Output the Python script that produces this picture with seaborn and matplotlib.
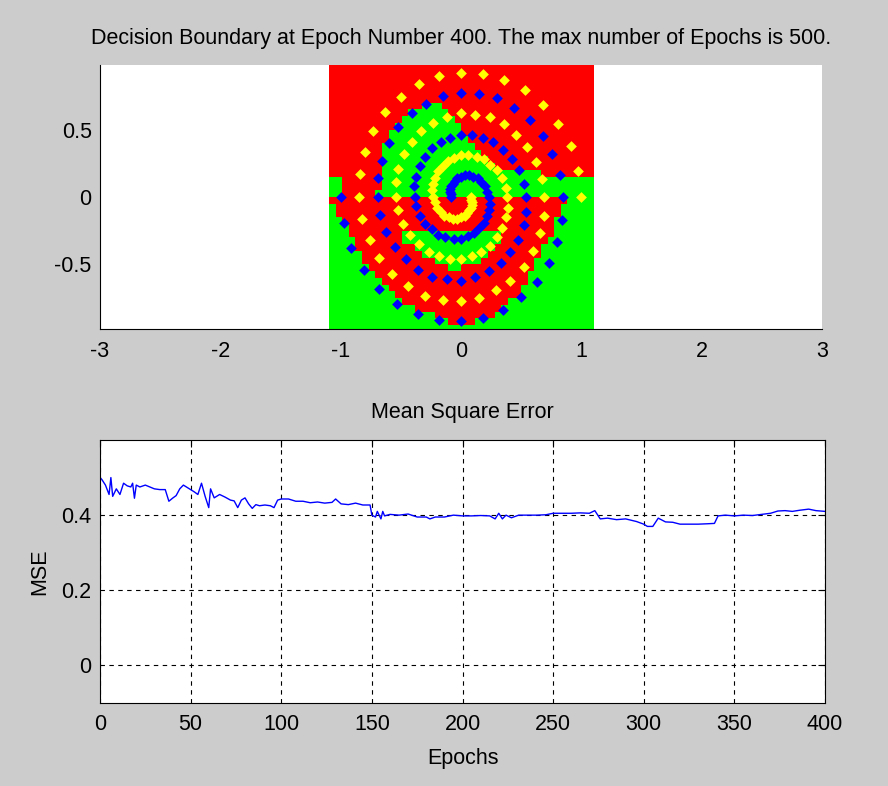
import numpy as np
import matplotlib
matplotlib.use("Agg")
import matplotlib.pyplot as plt
from matplotlib.colors import ListedColormap
import seaborn as sns
import pandas as pd

sns.set_theme(style="white")
plt.rcParams['font.family'] = ['Liberation Sans', 'DejaVu Sans']
plt.rcParams['axes.unicode_minus'] = False

# ---------------- data ----------------
# decision-region grid (40 x 40 cells), run-length encoded rows, top row first
region_rows = [
    "R40", "R40", "R40", "R40", "R40", "R40",
    "R14 G3 R23",
    "R12 G6 R22",
    "R11 G8 R21",
    "R10 G10 R20",
    "R9 G11 R20",
    "R9 G12 R19",
    "R8 G14 R18",
    "R8 G15 R17",
    "R8 G16 R16",
    "R8 G17 R15",
    "R8 G24 R8",
    "G2 R6 G32",
    "G2 R6 G32",
    "G2 R5 G33",
    "R36 G4",
    "G1 R34 G5",
    "G1 R34 G5",
    "G2 R32 G6",
    "G3 R31 G6",
    "G3 R8 G15 R8 G6",
    "G4 R7 G15 R7 G7",
    "G4 R9 G12 R7 G8",
    "G5 R9 G10 R8 G8",
    "G5 R11 G7 R8 G9",
    "G6 R12 G2 R11 G9",
    "G7 R23 G10",
    "G8 R22 G10",
    "G9 R20 G11",
    "G10 R19 G11",
    "G11 R16 G13",
    "G13 R13 G14",
    "G16 R9 G15",
    "G18 R4 G18",
    "G40",
]
grid_x_range = [-1.1, 1.1]
grid_y_range = [-1.0, 1.0]

yellow_x = [1.00, 0.97, 0.91, 0.81, 0.68, 0.53, 0.36, 0.18,
            0.00, -0.18, -0.35, -0.50, -0.63, -0.73, -0.80, -0.84,
            -0.85, -0.82, -0.76, -0.68, -0.57, -0.44, -0.30, -0.15,
            0.00, 0.15, 0.29, 0.41, 0.52, 0.60, 0.66, 0.69,
            0.69, 0.67, 0.62, 0.55, 0.46, 0.36, 0.24, 0.12,
            0.00, -0.12, -0.23, -0.33, -0.41, -0.47, -0.52, -0.54,
            -0.54, -0.52, -0.48, -0.42, -0.35, -0.27, -0.18, -0.09,
            0.00, 0.09, 0.17, 0.24, 0.30, 0.34, 0.37, 0.39,
            0.38, 0.37, 0.34, 0.30, 0.24, 0.19, 0.13, 0.06,
            0.00, -0.06, -0.11, -0.15, -0.19, -0.22, -0.23, -0.24,
            -0.23, -0.22, -0.20, -0.17, -0.14, -0.10, -0.07, -0.03,
            0.00, 0.03, 0.05, 0.07, 0.08, 0.09, 0.09, 0.08, 0.08]
yellow_y = [0.00, 0.19, 0.38, 0.54, 0.68, 0.79, 0.87, 0.91,
            0.92, 0.90, 0.84, 0.74, 0.63, 0.49, 0.33, 0.17,
            0.00, -0.16, -0.32, -0.45, -0.57, -0.66, -0.73, -0.76,
            -0.77, -0.75, -0.69, -0.62, -0.52, -0.40, -0.27, -0.14,
            0.00, 0.13, 0.26, 0.37, 0.46, 0.54, 0.59, 0.61,
            0.62, 0.59, 0.55, 0.49, 0.41, 0.32, 0.21, 0.11,
            0.00, -0.10, -0.20, -0.28, -0.35, -0.41, -0.44, -0.46,
            -0.46, -0.44, -0.41, -0.36, -0.30, -0.23, -0.15, -0.08,
            0.00, 0.07, 0.14, 0.20, 0.24, 0.28, 0.30, 0.31,
            0.31, 0.29, 0.27, 0.23, 0.19, 0.14, 0.10, 0.05,
            0.00, -0.04, -0.08, -0.11, -0.14, -0.15, -0.16, -0.16,
            -0.15, -0.14, -0.12, -0.10, -0.08, -0.06, -0.04, -0.02, 0.00]
blue_x = [-1.00, -0.97, -0.91, -0.81, -0.68, -0.53, -0.36, -0.18,
          0.00, 0.18, 0.35, 0.50, 0.63, 0.73, 0.80, 0.84,
          0.85, 0.82, 0.76, 0.68, 0.57, 0.44, 0.30, 0.15,
          0.00, -0.15, -0.29, -0.41, -0.52, -0.60, -0.66, -0.69,
          -0.69, -0.67, -0.62, -0.55, -0.46, -0.36, -0.24, -0.12,
          0.00, 0.12, 0.23, 0.33, 0.41, 0.47, 0.52, 0.54,
          0.54, 0.52, 0.48, 0.42, 0.35, 0.27, 0.18, 0.09,
          0.00, -0.09, -0.17, -0.24, -0.30, -0.34, -0.37, -0.39,
          -0.38, -0.37, -0.34, -0.30, -0.24, -0.19, -0.13, -0.06,
          0.00, 0.06, 0.11, 0.15, 0.19, 0.22, 0.23, 0.24,
          0.23, 0.22, 0.20, 0.17, 0.14, 0.10, 0.07, 0.03,
          0.00, -0.03, -0.05, -0.07, -0.08, -0.09, -0.09, -0.08, -0.08]
blue_y = [0.00, -0.19, -0.38, -0.54, -0.68, -0.79, -0.87, -0.91,
          -0.92, -0.90, -0.84, -0.74, -0.63, -0.49, -0.33, -0.17,
          0.00, 0.16, 0.32, 0.45, 0.57, 0.66, 0.73, 0.76,
          0.77, 0.75, 0.69, 0.62, 0.52, 0.40, 0.27, 0.14,
          0.00, -0.13, -0.26, -0.37, -0.46, -0.54, -0.59, -0.61,
          -0.62, -0.59, -0.55, -0.49, -0.41, -0.32, -0.21, -0.11,
          0.00, 0.10, 0.20, 0.28, 0.35, 0.41, 0.44, 0.46,
          0.46, 0.44, 0.41, 0.36, 0.30, 0.23, 0.15, 0.08,
          0.00, -0.07, -0.14, -0.20, -0.24, -0.28, -0.30, -0.31,
          -0.31, -0.29, -0.27, -0.23, -0.19, -0.14, -0.10, -0.05,
          0.00, 0.04, 0.08, 0.11, 0.14, 0.15, 0.16, 0.16,
          0.15, 0.14, 0.12, 0.10, 0.08, 0.06, 0.04, 0.02, 0.00]

epochs = [0, 1, 3, 5, 6, 7, 9, 11, 13, 15, 17, 18, 19, 20, 22, 25, 27, 30, 33, 36,
          38, 40, 42, 44, 46, 48, 50, 52, 54, 56, 58, 60, 61, 63, 66, 69, 72, 74, 76, 78,
          80, 82, 84, 86, 88, 91, 94, 96, 98, 100, 104, 108, 112, 116, 120, 124, 128, 130, 133, 137,
          141, 145, 149, 150, 152, 153, 155, 156, 157, 160, 165, 170, 175, 180, 182, 185, 190, 195, 200, 205,
          210, 215, 218, 220, 222, 224, 227, 231, 236, 241, 246, 250, 255, 260, 265, 270, 273, 276, 280, 285,
          290, 296, 300, 302, 305, 308, 312, 316, 320, 325, 330, 335, 339, 341, 345, 350, 355, 360, 365, 370,
          374, 378, 382, 386, 391, 395, 400]
mse = [0.500, 0.495, 0.480, 0.455, 0.500, 0.450, 0.470, 0.455, 0.485, 0.478, 0.475, 0.485, 0.445, 0.480, 0.475, 0.480, 0.476, 0.470, 0.468, 0.468,
       0.437, 0.445, 0.452, 0.470, 0.480, 0.474, 0.468, 0.462, 0.455, 0.485, 0.450, 0.420, 0.470, 0.446, 0.455, 0.448, 0.440, 0.438, 0.420, 0.440,
       0.446, 0.430, 0.418, 0.428, 0.425, 0.427, 0.425, 0.420, 0.440, 0.443, 0.443, 0.437, 0.437, 0.433, 0.435, 0.432, 0.434, 0.443, 0.430, 0.428,
       0.432, 0.427, 0.427, 0.400, 0.395, 0.410, 0.390, 0.410, 0.398, 0.402, 0.400, 0.403, 0.395, 0.395, 0.390, 0.395, 0.395, 0.400, 0.398, 0.398,
       0.399, 0.398, 0.390, 0.405, 0.390, 0.400, 0.393, 0.400, 0.400, 0.400, 0.401, 0.405, 0.405, 0.405, 0.406, 0.405, 0.412, 0.390, 0.392, 0.388,
       0.390, 0.383, 0.376, 0.370, 0.370, 0.392, 0.382, 0.381, 0.376, 0.376, 0.376, 0.377, 0.378, 0.398, 0.400, 0.398, 0.400, 0.399, 0.402, 0.405,
       0.411, 0.412, 0.410, 0.413, 0.416, 0.412, 0.410]

top_xticks = [-3, -2, -1, 0, 1, 2, 3]
top_yticks = [-0.5, 0, 0.5]
top_yticklabels = ["-0.5", "0", "0.5"]
bot_xticks = [0, 50, 100, 150, 200, 250, 300, 350, 400]
bot_yticks = [0, 0.2, 0.4]
bot_yticklabels = ["0", "0.2", "0.4"]

title_top = "Decision Boundary at Epoch Number 400. The max number of Epochs is 500."
title_bot = "Mean Square Error"

# ---------------- figure ----------------
FS = 15.5
fig = plt.figure(figsize=(8.88, 7.86), dpi=100, facecolor='#cccccc')
ax1 = fig.add_axes([100/888, 1-329/786, 722/888, 264/786])
ax2 = fig.add_axes([100/888, 1-703/786, 725/888, 263/786])

# decision regions
codes = {'R': 0, 'G': 1}
grid = []
for row in region_rows:
    vals = []
    for tok in row.split():
        vals += [codes[tok[0]]] * int(tok[1:])
    grid.append(vals)
grid = np.array(grid)
ax1.imshow(grid, cmap=ListedColormap(['#ff0000', '#00ff00']), vmin=0, vmax=1,
           extent=(grid_x_range[0], grid_x_range[1], grid_y_range[0], grid_y_range[1]),
           origin='upper', aspect='auto', interpolation='nearest', zorder=1)

sns.scatterplot(x=yellow_x, y=yellow_y, ax=ax1, color='#ffff00', marker='D', s=30,
                linewidth=0, zorder=3)
sns.scatterplot(x=blue_x, y=blue_y, ax=ax1, color='#0000ff', marker='D', s=30,
                linewidth=0, zorder=4)

ax1.set_xlim(-3, 3)
ax1.set_ylim(-0.978, 0.978)
ax1.set_xticks(top_xticks)
ax1.set_xticklabels([str(t) for t in top_xticks])
ax1.set_yticks(top_yticks)
ax1.set_yticklabels(top_yticklabels)
ax1.set_facecolor('white')
for s in ['top', 'right']:
    ax1.spines[s].set_visible(False)
for s in ['left', 'bottom']:
    ax1.spines[s].set_color('black')
    ax1.spines[s].set_linewidth(0.8)
ax1.tick_params(direction='in', length=5, width=0.8, colors='black', labelsize=FS, pad=6)
ax1.tick_params(axis='x', pad=9)
ax1.set_title(title_top, fontsize=FS, pad=15, color='black')

# MSE curve
sns.lineplot(x=epochs, y=mse, ax=ax2, color='#0000ff', linewidth=1.0, estimator=None)
ax2.set_xlim(0, 400)
ax2.set_ylim(-0.1, 0.6)
ax2.set_xticks(bot_xticks)
ax2.set_xticklabels([str(t) for t in bot_xticks])
ax2.set_yticks(bot_yticks)
ax2.set_yticklabels(bot_yticklabels)
ax2.set_facecolor('white')
for s in ax2.spines.values():
    s.set_color('black')
    s.set_linewidth(0.8)
ax2.grid(True, color='black', linestyle=(0, (4, 4)), linewidth=0.8)
ax2.tick_params(direction='in', length=5, width=0.8, colors='black', labelsize=FS, pad=6,
                top=True, right=True)
ax2.tick_params(axis='x', pad=8)
ax2.set_title(title_bot, fontsize=FS, pad=16, color='black')
ax2.set_xlabel("Epochs", fontsize=FS, labelpad=9, color='black')
ax2.set_ylabel("MSE", fontsize=FS, labelpad=8, color='black')

fig.savefig("out.png", dpi=100, facecolor=fig.get_facecolor())
